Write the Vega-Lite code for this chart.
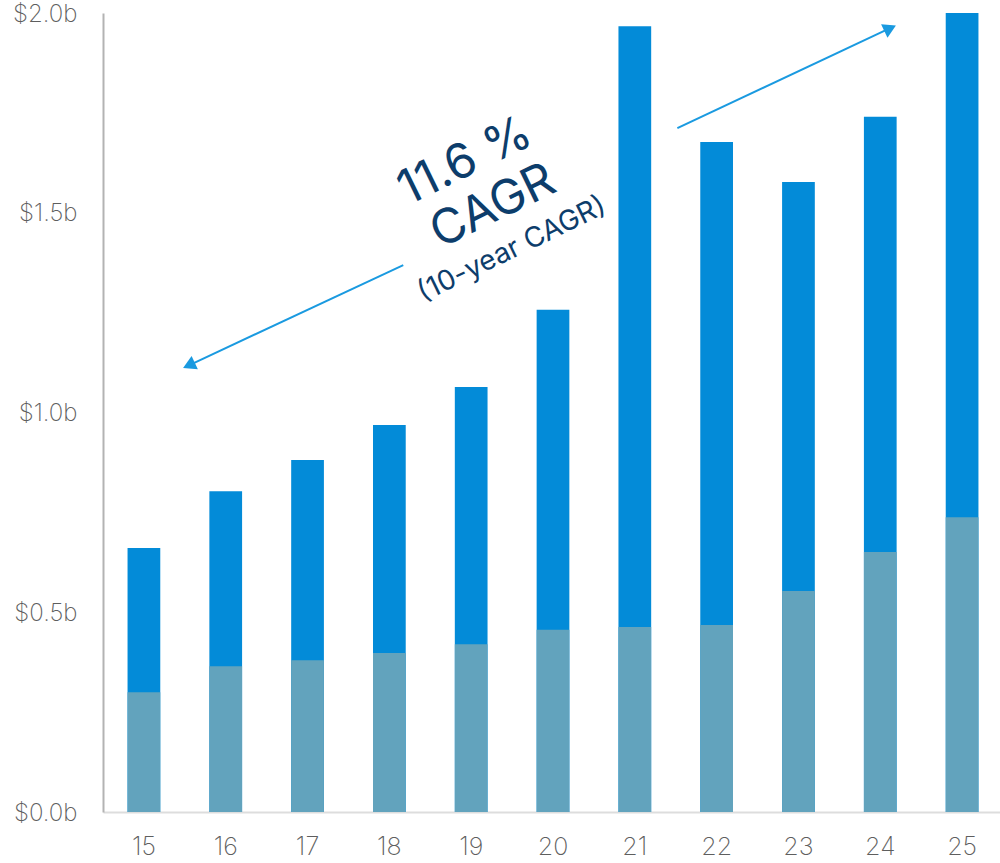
{
  "$schema": "https://vega.github.io/schema/vega-lite/v6.json",
  "autosize": "none",
  "width": 900,
  "height": 799,
  "padding": {"left": 103, "top": 13, "right": 0, "bottom": 51},
  "background": "white",
  "config": {"view": {"stroke": null}, "font": "Inter"},
  "datasets": {
    "bars": [
      {"year": "15", "total": 0.661, "base": 0.300},
      {"year": "16", "total": 0.803, "base": 0.365},
      {"year": "17", "total": 0.881, "base": 0.380},
      {"year": "18", "total": 0.969, "base": 0.398},
      {"year": "19", "total": 1.064, "base": 0.420},
      {"year": "20", "total": 1.257, "base": 0.456},
      {"year": "21", "total": 1.967, "base": 0.463},
      {"year": "22", "total": 1.677, "base": 0.468},
      {"year": "23", "total": 1.577, "base": 0.553},
      {"year": "24", "total": 1.740, "base": 0.651},
      {"year": "25", "total": 2.000, "base": 0.738}
    ],
    "arrows": [
      {"id": "up", "x": 21.52, "y": 1.712, "x2": 24.12, "y2": 1.962},
      {"id": "down", "x": 18.17, "y": 1.369, "x2": 15.55, "y2": 1.118}
    ]
  },
  "layer": [
    {
      "data": {"name": "bars"},
      "layer": [
        {
          "mark": {"type": "bar", "color": "#038bd8"},
          "encoding": {
            "x": {
              "field": "year", "type": "ordinal",
              "scale": {"paddingInner": 0.6, "paddingOuter": 0.3},
              "axis": {"title": null, "labelAngle": 0, "ticks": false, "domainColor": "#dddddd", "domainWidth": 2, "labelFontSize": 25, "labelFontWeight": 200, "labelColor": "#5e5e5e", "labelPadding": 22}
            },
            "y": {
              "field": "total", "type": "quantitative",
              "scale": {"domain": [0, 2], "nice": false},
              "axis": {"title": null, "grid": false, "ticks": false, "values": [0, 0.5, 1, 1.5, 2], "labelExpr": "'$' + format(datum.value, '.1f') + 'b'", "domainColor": "#b3b3b3", "domainWidth": 2, "labelFontSize": 24, "labelFontWeight": 200, "labelColor": "#5e5e5e", "labelPadding": 26, "labelBaseline": "middle", "labelOffset": 1}
            }
          }
        },
        {
          "mark": {"type": "bar", "color": "#62a3bd"},
          "encoding": {
            "x": {"field": "year", "type": "ordinal"},
            "y": {"field": "base", "type": "quantitative"}
          }
        }
      ]
    },
    {
      "layer": [
        {
          "data": {"name": "arrows"},
          "mark": {"type": "rule", "color": "#1a9ae0", "strokeWidth": 2},
          "encoding": {
            "x": {"field": "x", "type": "quantitative", "scale": {"domain": [14.5, 25.5], "nice": false, "zero": false}, "axis": null},
            "y": {"field": "y", "type": "quantitative", "scale": {"domain": [0, 2], "nice": false}, "axis": null},
            "x2": {"field": "x2"},
            "y2": {"field": "y2"}
          }
        },
        {
          "data": {"name": "arrows"},
          "transform": [{"filter": "datum.id === 'up'"}],
          "mark": {"type": "point", "shape": "triangle-up", "filled": true, "color": "#1a9ae0", "opacity": 1, "size": 220, "angle": 64.5},
          "encoding": {
            "x": {"field": "x2", "type": "quantitative", "scale": {"domain": [14.5, 25.5], "nice": false, "zero": false}, "axis": null},
            "y": {"field": "y2", "type": "quantitative", "scale": {"domain": [0, 2], "nice": false}, "axis": null}
          }
        },
        {
          "data": {"name": "arrows"},
          "transform": [{"filter": "datum.id === 'down'"}],
          "mark": {"type": "point", "shape": "triangle-up", "filled": true, "color": "#1a9ae0", "opacity": 1, "size": 220, "angle": 245},
          "encoding": {
            "x": {"field": "x2", "type": "quantitative", "scale": {"domain": [14.5, 25.5], "nice": false, "zero": false}, "axis": null},
            "y": {"field": "y2", "type": "quantitative", "scale": {"domain": [0, 2], "nice": false}, "axis": null}
          }
        },
        {
          "data": {"values": [
            {"label": "11.6 %", "x": 18.93, "y": 1.627},
            {"label": "CAGR", "x": 19.27, "y": 1.514}
          ]},
          "mark": {"type": "text", "color": "#0d3d6b", "fontSize": 48, "fontWeight": 400, "angle": 334, "align": "center", "baseline": "middle"},
          "encoding": {
            "x": {"field": "x", "type": "quantitative", "scale": {"domain": [14.5, 25.5], "nice": false, "zero": false}, "axis": null},
            "y": {"field": "y", "type": "quantitative", "scale": {"domain": [0, 2], "nice": false}, "axis": null},
            "text": {"field": "label"}
          }
        },
        {
          "data": {"values": [
            {"label": "(10-year CAGR)", "x": 19.5, "y": 1.407}
          ]},
          "mark": {"type": "text", "color": "#0d3d6b", "fontSize": 28, "fontWeight": 400, "angle": 334, "align": "center", "baseline": "middle"},
          "encoding": {
            "x": {"field": "x", "type": "quantitative", "scale": {"domain": [14.5, 25.5], "nice": false, "zero": false}, "axis": null},
            "y": {"field": "y", "type": "quantitative", "scale": {"domain": [0, 2], "nice": false}, "axis": null},
            "text": {"field": "label"}
          }
        }
      ]
    }
  ],
  "resolve": {"scale": {"x": "independent", "y": "independent"}, "axis": {"x": "independent", "y": "independent"}}
}
